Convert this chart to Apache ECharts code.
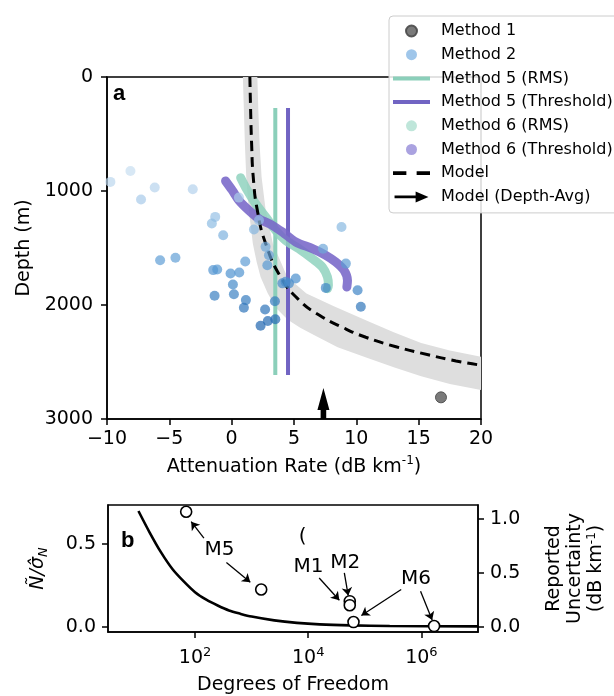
<!DOCTYPE html>
<html>
<head>
<meta charset="utf-8">
<script src="https://cdn.jsdelivr.net/npm/echarts@6/dist/echarts.min.js"></script>
<style>
html, body { margin: 0; padding: 0; background: #fff; }
#chart { width: 614px; height: 696px; }
</style>
</head>
<body>
<div id="chart"></div>
<script>
// ---- panel a : [attenuation (dB/km), depth (m)] ----
var method1 = [[16.79, 2810]];
var method2 = [
  [-9.73, 920], [-8.12, 824], [-7.27, 1075], [-6.17, 970], [-3.12, 985],
  [-1.32, 1227], [-1.59, 1285], [-0.68, 1388], [-5.74, 1607], [-4.51, 1586],
  [-1.48, 1694], [-1.16, 1689], [-0.09, 1724], [0.61, 1715], [1.09, 1618],
  [0.10, 1820], [0.18, 1905], [-1.37, 1919], [1.14, 1957], [0.98, 2024],
  [2.68, 2040], [2.32, 2182], [2.90, 2140], [3.50, 2125], [3.47, 1967],
  [2.86, 1652], [2.72, 1490], [2.99, 1563], [1.79, 1338], [0.58, 1058], [2.19, 1257],
  [4.07, 1810], [4.33, 1797], [4.60, 1810], [5.14, 1768],
  [7.33, 1506], [8.81, 1316], [9.16, 1637], [7.55, 1850], [10.10, 1871], [10.36, 2015]
];
var method5Rms = [[3.50, 272], [3.50, 2614]];
var method5Thr = [[4.52, 272], [4.52, 2614]];
var method6Rms = [
  [0.72, 883], [1.25, 994], [1.92, 1111], [2.73, 1228], [3.53, 1345], [4.33, 1433],
  [5.40, 1506], [6.48, 1594], [7.28, 1667], [7.68, 1754], [7.76, 1827], [7.68, 1857]
];
var method6Thr = [
  [-0.49, 912], [0.05, 994], [0.58, 1082], [1.38, 1170], [2.19, 1243], [3.26, 1301],
  [4.07, 1360], [5.14, 1447], [6.48, 1506], [7.55, 1564], [8.35, 1623], [9.02, 1696],
  [9.29, 1784], [9.24, 1842]
];
var modelLine = [
  [1.46, 0], [1.52, 290], [1.60, 585], [1.73, 877], [2.06, 1170], [2.73, 1462],
  [3.93, 1754], [5.40, 1956], [7.01, 2088], [8.89, 2196], [10.76, 2283],
  [13.18, 2366], [15.85, 2439], [18.0, 2491], [20.0, 2528]
];
var modelLow = [
  [0.90, 0], [0.98, 292], [1.06, 585], [1.17, 877], [1.38, 1170], [1.70, 1462],
  [2.00, 1620], [2.32, 1754], [2.90, 1900], [3.60, 2030], [4.50, 2130], [5.50, 2200],
  [6.60, 2263], [8.50, 2370], [10.9, 2465], [13.0, 2545], [15.2, 2625], [17.5, 2692], [20.0, 2746]
];
var modelHigh = [
  [2.06, 0], [2.14, 292], [2.24, 585], [2.40, 877], [2.73, 1170], [3.31, 1462],
  [4.46, 1754], [6.00, 1900], [8.20, 2010], [10.9, 2140], [13.0, 2240],
  [15.2, 2333], [17.5, 2400], [20.0, 2453]
];
var depthAvg = [[7.36, 2728, 3000]]; // x, arrow tip depth, arrow base depth

// ---- panel b ----
var dofCurve = [10, 15.8, 25.1, 39.8, 63.1, 100, 158, 251, 398, 631, 1000, 2512, 6310, 15850, 56230, 275400, 1e7];
var ratioCurve = [0.70, 0.57, 0.45, 0.35, 0.275, 0.21, 0.165, 0.13, 0.10, 0.08, 0.063, 0.04, 0.025, 0.016, 0.010, 0.006, 0.004];
var dofReported = [69.7, 1476, 54200, 54200, 63100, 1675000];
var uncReported = [1.067, 0.347, 0.239, 0.202, 0.046, 0.009];
var noteText = ['M5', 'M1', 'M2', 'M6', '('];
var noteDof = [270, 10070, 44870, 800000, 7940];
var noteUnc = [0.715, 0.555, 0.598, 0.445, 0.837];
// [dof from, unc from, dof to, unc to]
var noteArrows = [
  [143.5, 0.822, 85.5, 0.975],
  [358, 0.598, 948, 0.414],
  [15630, 0.454, 35480, 0.248],
  [43450, 0.500, 50930, 0.291],
  [439500, 0.347, 86900, 0.107],
  [966000, 0.331, 1549000, 0.064]
];
var dofTickExp = [2, 4, 6];
var ratioTicks = [0, 0.5];
var uncTicks = [0, 0.5, 1.0];

var FONT = 'DejaVu Sans';
var lg = Math.log10;

var chart = echarts.init(document.getElementById('chart'));

var tickStyle = { show: true, inside: false, length: 6, lineStyle: { color: '#000', width: 1.5 } };
var lineStyleAx = { show: true, onZero: false, lineStyle: { color: '#000', width: 1.5 } };
var lblStyle = { color: '#000', fontFamily: FONT, fontSize: 19 };

chart.setOption({
  animation: false,
  textStyle: { fontFamily: FONT, color: '#000' },
  grid: [
    { left: 107, top: 77, width: 374, height: 342, show: true, borderColor: '#000', borderWidth: 1.5, backgroundColor: 'transparent' },
    { left: 108, top: 505, width: 382, height: 128, show: true, borderColor: '#000', borderWidth: 1.5, backgroundColor: 'transparent' }
  ],
  legend: {
    orient: 'vertical',
    left: 389, top: 16,
    padding: [7, 6, 8, 4],
    itemWidth: 37, itemHeight: 11, itemGap: 7.7,
    backgroundColor: 'rgba(255,255,255,0.85)',
    borderColor: '#cccccc', borderWidth: 1, borderRadius: 4,
    textStyle: { fontFamily: FONT, fontSize: 16, color: '#000', padding: [0, 0, 0, 6] },
    selectedMode: false,
    data: [
      { name: 'Method 1', icon: 'circle', itemStyle: { color: '#6b6b6b', opacity: 0.9 } },
      { name: 'Method 2', icon: 'circle', itemStyle: { color: '#95c0e8', opacity: 0.9 } },
      { name: 'Method 5 (RMS)', icon: 'path://M0,0 L37,0 L37,4 L0,4 Z', itemStyle: { color: '#8bcfba' } },
      { name: 'Method 5 (Threshold)', icon: 'path://M0,0 L37,0 L37,4 L0,4 Z', itemStyle: { color: '#7164c3' } },
      { name: 'Method 6 (RMS)', icon: 'circle', itemStyle: { color: '#bfe6da', opacity: 1 } },
      { name: 'Method 6 (Threshold)', icon: 'circle', itemStyle: { color: '#aaa2e0', opacity: 1 } },
      { name: 'Model', icon: 'path://M0,0 L13,0 L13,3.6 L0,3.6 Z M23,0 L36,0 L36,3.6 L23,3.6 Z', itemStyle: { color: '#000' } },
      { name: 'Model (Depth-Avg)', icon: 'path://M0,4.5 L23,4.5 L23,0 L37,6 L23,12 L23,7.5 L0,7.5 Z', itemStyle: { color: '#000' } }
    ]
  },
  visualMap: [{
    show: false, type: 'continuous', seriesIndex: 1, dimension: 1,
    min: 820, max: 2200,
    inRange: { color: ['#c9def1', '#8ebce3', '#4d92cf', '#1d63ae'] }
  }],
  graphic: [
    { type: 'text', left: 113, top: 83, style: { text: 'a', font: 'bold 22px "Liberation Sans"', fill: '#000' } },
    { type: 'text', left: 121, top: 530, style: { text: 'b', font: 'bold 22px "Liberation Sans"', fill: '#000' } }
  ],
  xAxis: [
    {
      gridIndex: 0, type: 'value', min: -10, max: 20, interval: 5,
      axisLine: lineStyleAx, axisTick: tickStyle, splitLine: { show: false },
      axisLabel: Object.assign({ margin: 11, formatter: function (v) { return String(v).replace('-', '\u2212'); } }, lblStyle),
      name: '{t|Attenuation Rate (dB km}{s|-1}{t|)}', nameLocation: 'middle', nameGap: 36,
      nameTextStyle: { rich: { t: { fontFamily: FONT, fontSize: 19, color: '#000', lineHeight: 24 }, s: { fontFamily: FONT, fontSize: 12, color: '#000', verticalAlign: 'top', lineHeight: 14 } } }
    },
    {
      gridIndex: 1, type: 'value', min: 0.462, max: 7.0,
      axisLine: lineStyleAx, splitLine: { show: false },
      axisTick: Object.assign({ customValues: dofTickExp }, tickStyle),
      axisLabel: {
        margin: 14, customValues: dofTickExp,
        formatter: function (v) { return '{b|10}{s|' + v + '}'; },
        rich: { b: { fontFamily: FONT, fontSize: 19, color: '#000', lineHeight: 24 }, s: { fontFamily: FONT, fontSize: 13, color: '#000', verticalAlign: 'top', lineHeight: 14 } }
      },
      name: 'Degrees of Freedom', nameLocation: 'middle', nameGap: 44,
      nameTextStyle: { fontFamily: FONT, fontSize: 19, color: '#000' }
    }
  ],
  yAxis: [
    {
      gridIndex: 0, type: 'value', min: 0, max: 3000, interval: 1000, inverse: true,
      axisLine: lineStyleAx, axisTick: tickStyle, splitLine: { show: false },
      axisLabel: Object.assign({ margin: 14, formatter: function (v) { return String(v); } }, lblStyle),
      name: 'Depth (m)', nameLocation: 'middle', nameRotate: 90, nameGap: 66,
      nameTextStyle: { fontFamily: FONT, fontSize: 19, color: '#000' }
    },
    {
      gridIndex: 1, type: 'value', min: -0.03, max: 0.736, position: 'left',
      axisLine: lineStyleAx, splitLine: { show: false },
      axisTick: Object.assign({ customValues: ratioTicks }, tickStyle),
      axisLabel: Object.assign({ margin: 12, customValues: ratioTicks, formatter: function (v) { return v.toFixed(1); } }, lblStyle),
      name: '{m|\u00d1/\u03c3\u0302}{n|N}', nameLocation: 'middle', nameRotate: 90, nameGap: 58,
      nameTextStyle: { rich: { m: { fontFamily: FONT, fontSize: 19, fontStyle: 'italic', color: '#000', lineHeight: 24 }, n: { fontFamily: FONT, fontSize: 13, fontStyle: 'italic', color: '#000', verticalAlign: 'bottom', lineHeight: 20 } } }
    },
    {
      gridIndex: 1, type: 'value', min: -0.046, max: 1.129, position: 'right',
      axisLine: lineStyleAx, splitLine: { show: false },
      axisTick: Object.assign({ customValues: uncTicks }, tickStyle),
      axisLabel: Object.assign({ margin: 12, customValues: uncTicks, formatter: function (v) { return v.toFixed(1); } }, lblStyle),
      name: '{t|Reported}\n{t|Uncertainty}\n{t|(dB km}{s|-1}{t|)}', nameLocation: 'middle', nameRotate: 90, nameGap: 66,
      nameTextStyle: { rich: { t: { fontFamily: FONT, fontSize: 19, color: '#000', lineHeight: 21 }, s: { fontFamily: FONT, fontSize: 12, color: '#000', verticalAlign: 'top', lineHeight: 12 } } }
    }
  ],
  series: [
    {
      name: 'band', type: 'custom', xAxisIndex: 0, yAxisIndex: 0, silent: true, z: 1,
      data: [[0, 0]],
      renderItem: function (params, api) {
        var pts = modelHigh.map(function (p) { return api.coord(p); })
          .concat(modelLow.slice().reverse().map(function (p) { return api.coord(p); }));
        return { type: 'polygon', shape: { points: pts }, style: { fill: '#dedede' } };
      }
    },
    {
      name: 'Method 2', type: 'scatter', xAxisIndex: 0, yAxisIndex: 0, z: 6,
      symbolSize: 10, data: method2,
      itemStyle: { color: '#95c0e8', opacity: 0.7 }
    },
    {
      name: 'Method 5 (RMS)', type: 'line', xAxisIndex: 0, yAxisIndex: 0, z: 3,
      symbol: 'none', data: method5Rms,
      lineStyle: { color: '#8bcfba', width: 4 }, itemStyle: { color: '#8bcfba' }
    },
    {
      name: 'Method 5 (Threshold)', type: 'line', xAxisIndex: 0, yAxisIndex: 0, z: 3,
      symbol: 'none', data: method5Thr,
      lineStyle: { color: '#7164c3', width: 4 }, itemStyle: { color: '#7164c3' }
    },
    {
      name: 'Method 6 (RMS)', type: 'line', xAxisIndex: 0, yAxisIndex: 0, z: 4,
      symbol: 'none', smooth: 0.3, data: method6Rms,
      lineStyle: { color: '#8fd2be', width: 9, cap: 'round', join: 'round', opacity: 0.85 },
      itemStyle: { color: '#8fd2be' }
    },
    {
      name: 'Method 6 (Threshold)', type: 'line', xAxisIndex: 0, yAxisIndex: 0, z: 4,
      symbol: 'none', smooth: 0.3, data: method6Thr,
      lineStyle: { color: '#7766c8', width: 9, cap: 'round', join: 'round', opacity: 0.88 },
      itemStyle: { color: '#7766c8' }
    },
    {
      name: 'Model', type: 'line', xAxisIndex: 0, yAxisIndex: 0, z: 5,
      symbol: 'none', smooth: true, data: modelLine,
      lineStyle: { color: '#000', width: 3, type: [10, 6] }, itemStyle: { color: '#000' }
    },
    {
      name: 'Method 1', type: 'scatter', xAxisIndex: 0, yAxisIndex: 0, z: 6,
      symbolSize: 11, data: method1,
      itemStyle: { color: '#6b6b6b', opacity: 0.9, borderColor: '#4a4a4a', borderWidth: 1 }
    },
    {
      name: 'Model (Depth-Avg)', type: 'custom', xAxisIndex: 0, yAxisIndex: 0, z: 7,
      data: depthAvg, itemStyle: { color: '#000' },
      renderItem: function (params, api) {
        var tip = api.coord([api.value(0), api.value(1)]);
        var base = api.coord([api.value(0), api.value(2)]);
        var hl = 22, hw = 6, sw = 2.8, x = tip[0];
        return {
          type: 'polygon',
          shape: { points: [[x - sw, base[1]], [x - sw, tip[1] + hl], [x - hw, tip[1] + hl], [x, tip[1]],
            [x + hw, tip[1] + hl], [x + sw, tip[1] + hl], [x + sw, base[1]]] },
          style: { fill: '#000' }
        };
      }
    },
    // panel b
    {
      name: 'ratio', type: 'line', xAxisIndex: 1, yAxisIndex: 1, z: 3,
      symbol: 'none', smooth: 0.3,
      data: dofCurve.map(function (d, i) { return [lg(d), ratioCurve[i]]; }),
      lineStyle: { color: '#000', width: 2.6 }
    },
    {
      name: 'reported', type: 'scatter', xAxisIndex: 1, yAxisIndex: 2, z: 5,
      symbolSize: 11,
      data: dofReported.map(function (d, i) { return [lg(d), uncReported[i]]; }),
      itemStyle: { color: '#fff', borderColor: '#000', borderWidth: 1.6, opacity: 1 },
      markLine: {
        silent: true, symbol: ['none', 'arrow'], symbolSize: 8, precision: 6,
        label: { show: false },
        lineStyle: { color: '#000', width: 1.3, type: 'solid' },
        data: noteArrows.map(function (a) {
          return [{ coord: [lg(a[0]), a[1]] }, { coord: [lg(a[2]), a[3]] }];
        })
      }
    },
    {
      name: 'notes', type: 'scatter', xAxisIndex: 1, yAxisIndex: 2, z: 6, silent: true,
      symbolSize: 1, itemStyle: { color: 'rgba(0,0,0,0)' },
      data: noteText.map(function (t, i) { return { name: t, value: [lg(noteDof[i]), noteUnc[i]] }; }),
      label: { show: true, position: 'inside', formatter: '{b}', color: '#000', opacity: 1, fontFamily: FONT, fontSize: 20 }
    }
  ]
});
</script>
</body>
</html>
